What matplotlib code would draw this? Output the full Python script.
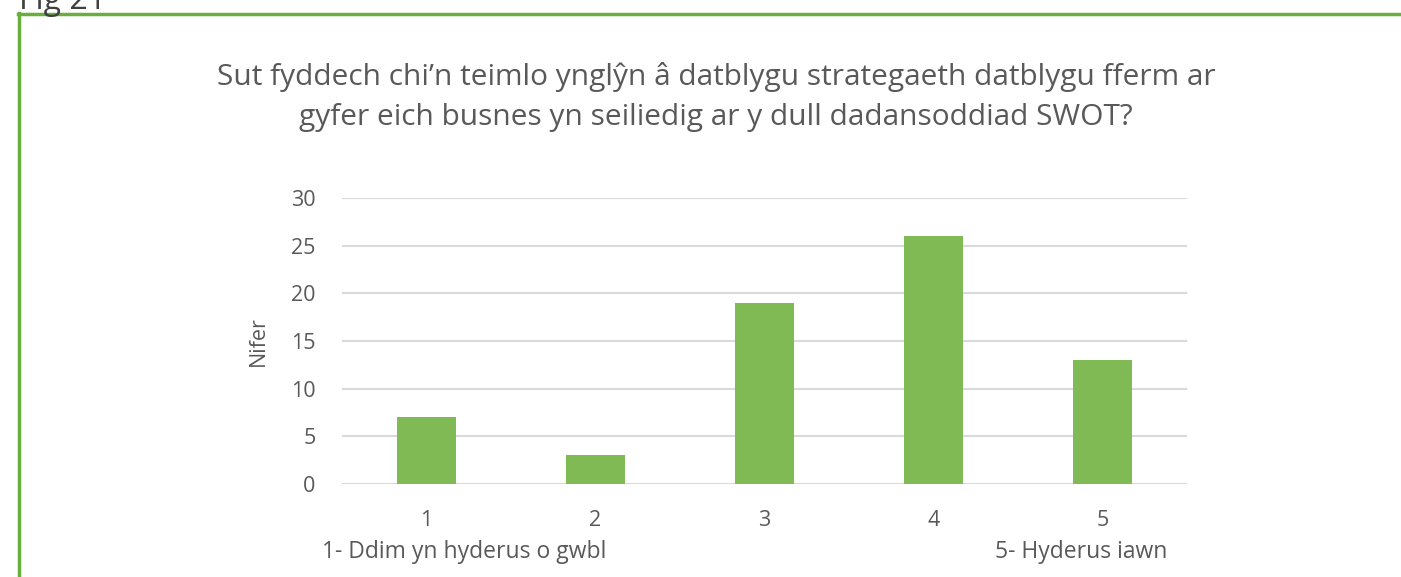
import matplotlib.pyplot as plt
from matplotlib.lines import Line2D

# data
categories = ["1", "2", "3", "4", "5"]
counts = [7, 3, 19, 26, 13]
y_ticks = [0, 5, 10, 15, 20, 25, 30]

title = ("Sut fyddech chi\u2019n teimlo ynglŷn â datblygu strategaeth datblygu fferm ar\n"
         "gyfer eich busnes yn seiliedig ar y dull dadansoddiad SWOT?")

grey = "#595959"
bar_green = "#7fba55"
frame_green = "#6aae3c"

plt.rcParams["font.family"] = ["Open Sans", "DejaVu Sans"]

W, H = 1401, 577
fig = plt.figure(figsize=(W / 100, H / 100), dpi=100)

# green frame (left and top edges only are visible)
fig.add_artist(Line2D([19 / W, 19 / W], [0, 1 - 13 / H], transform=fig.transFigure,
                      color=frame_green, lw=2.5))
fig.add_artist(Line2D([18 / W, 1], [1 - 14 / H, 1 - 14 / H], transform=fig.transFigure,
                      color=frame_green, lw=2.5))

# cut-off figure caption at the very top
fig.text(19 / W, 1 - 9 / H, "Fig 21", fontsize=23, color="#404040", va="baseline", ha="left")

ax = fig.add_axes([342 / W, 93 / H, 845 / W, 286 / H])
x = range(len(categories))
ax.bar(x, counts, width=0.345, color=bar_green, zorder=3)

ax.set_xlim(-0.5, len(categories) - 0.5)
ax.set_ylim(0, 30)
ax.set_yticks(y_ticks)
ax.set_xticks(list(x))
ax.set_xticklabels(categories)
ax.yaxis.grid(True, color="#d9d9d9", lw=1.5, zorder=0)
ax.tick_params(axis="both", length=0, labelsize=15.5, labelcolor=grey)
ax.tick_params(axis="y", pad=19)
ax.tick_params(axis="x", pad=19)
for s in ax.spines.values():
    s.set_visible(False)
ax.set_ylabel("Nifer", fontsize=15.5, color=grey, labelpad=16)

fig.text(716 / W, 1 - 62 / H, title, fontsize=21.5, color=grey, ha="center", va="top",
         linespacing=1.5)

fig.text(322 / W, 1 - 552 / H, "1- Ddim yn hyderus o gwbl", fontsize=16.5, color=grey,
         ha="left", va="center")
fig.text(1167 / W, 1 - 552 / H, "5- Hyderus iawn", fontsize=16.5, color=grey,
         ha="right", va="center")

fig.savefig("out.png", dpi=100)
